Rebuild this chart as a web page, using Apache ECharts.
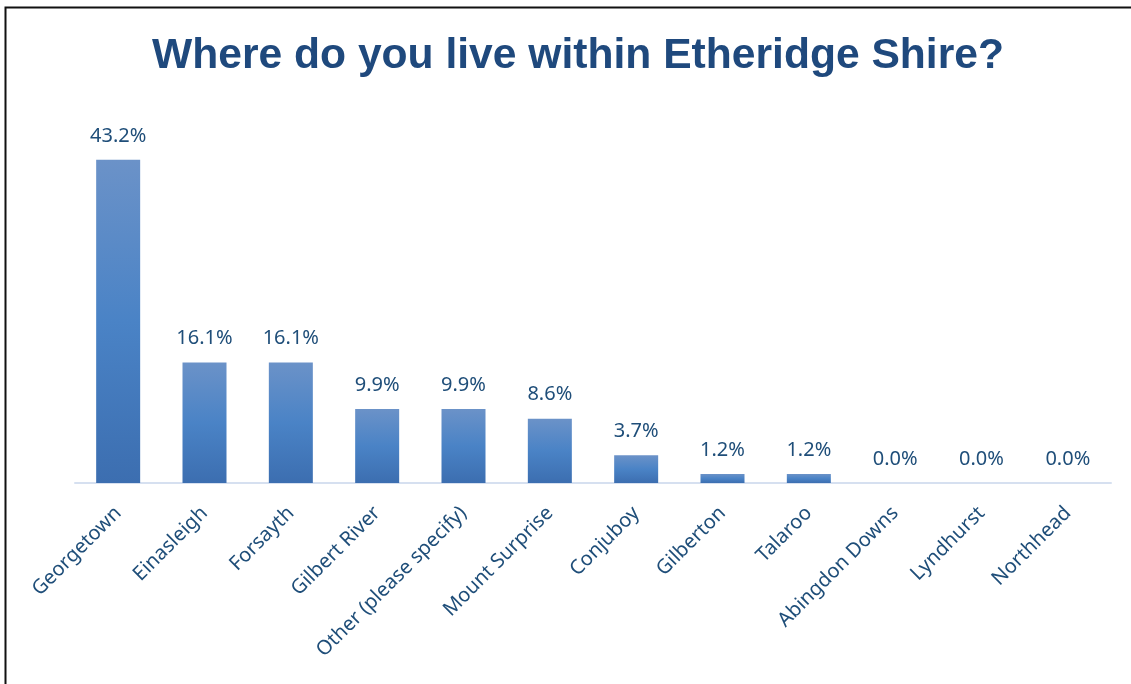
<!DOCTYPE html>
<html>
<head>
<meta charset="utf-8">
<script src="https://cdn.jsdelivr.net/npm/echarts@6/dist/echarts.min.js"></script>
<style>
  html, body { margin: 0; padding: 0; background: #ffffff; }
  #chart { width: 1131px; height: 684px; }
</style>
</head>
<body>
<div id="chart"></div>
<script>
// Survey answers: place of residence within the shire
const categories = ['Georgetown', 'Einasleigh', 'Forsayth', 'Gilbert River', 'Other (please specify)',
  'Mount Surprise', 'Conjuboy', 'Gilberton', 'Talaroo', 'Abingdon Downs', 'Lyndhurst', 'Northhead'];
const percentages = [43.2, 16.1, 16.1, 9.9, 9.9, 8.6, 3.7, 1.2, 1.2, 0.0, 0.0, 0.0];

const chart = echarts.init(document.getElementById('chart'), null, { renderer: 'canvas' });
const labelFont = '"Noto Sans", "Open Sans", sans-serif';
const navy = '#1F4E79';

chart.setOption({
  animation: false,
  backgroundColor: '#ffffff',
  title: {
    text: 'Where do you live within Etheridge Shire?',
    left: 147,
    top: 30,
    textStyle: {
      fontFamily: '"Liberation Sans", Arial, sans-serif',
      fontWeight: 'bold',
      fontSize: 42.6,
      color: '#1F497D'
    }
  },
  graphic: [{
    type: 'rect',
    silent: true,
    shape: { x: 5.5, y: 7.5, width: 1400, height: 900 },
    style: { fill: 'none', stroke: '#111', lineWidth: 2 }
  }],
  grid: { left: 75, right: 20, top: 109, bottom: 201, containLabel: false },
  xAxis: {
    type: 'category',
    data: categories,
    axisLine: { show: true, lineStyle: { color: '#D6E0F0', width: 2 } },
    axisTick: { show: false },
    axisLabel: {
      rotate: 45,
      margin: 27,
      interval: 0,
      fontFamily: labelFont,
      fontSize: 20,
      color: navy
    }
  },
  yAxis: {
    type: 'value',
    min: 0,
    max: 50,
    show: false,
    splitLine: { show: false }
  },
  series: [{
    type: 'bar',
    data: percentages,
    barWidth: 44,
    itemStyle: {
      color: new echarts.graphic.LinearGradient(0, 0, 0, 1, [
        { offset: 0, color: '#6B92C8' },
        { offset: 0.5, color: '#4A83C6' },
        { offset: 1, color: '#3C6EB0' }
      ])
    },
    label: {
      show: true,
      position: 'top',
      distance: 14,
      fontFamily: labelFont,
      fontSize: 20,
      color: navy,
      formatter: p => p.value.toFixed(1) + '%'
    }
  }]
});
</script>
</body>
</html>
